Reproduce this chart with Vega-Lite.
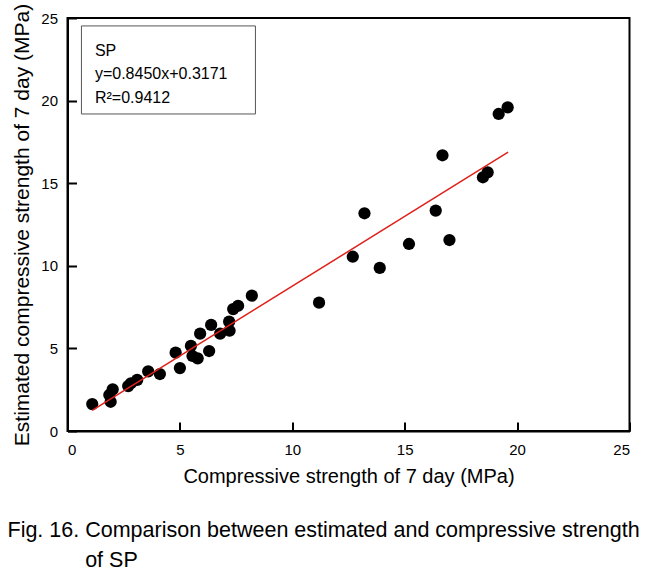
{
  "$schema": "https://vega.github.io/schema/vega-lite/v6.json",
  "width": 562,
  "height": 413,
  "autosize": {"type": "none"},
  "padding": {"left": 67.5, "top": 18, "right": 30, "bottom": 142},
  "background": "white",
  "config": {
    "view": {"stroke": "black", "strokeWidth": 2},
    "axis": {
      "grid": false,
      "domainColor": "black",
      "domainWidth": 2,
      "tickColor": "black",
      "tickWidth": 2,
      "tickSize": -9,
      "labelFont": "Liberation Sans",
      "labelFontSize": 15,
      "labelColor": "black",
      "titleFont": "Liberation Sans",
      "titleFontWeight": "normal",
      "titleColor": "black"
    }
  },
  "title": {
    "text": ["Fig. 16. Comparison between estimated and compressive strength", "\u200b\u00a0\u00a0\u00a0\u00a0\u00a0\u00a0\u00a0\u00a0\u00a0\u00a0\u00a0\u00a0\u00a0of SP"],
    "orient": "bottom",
    "anchor": "start",
    "frame": "group",
    "dx": -60,
    "offset": 34,
    "font": "Liberation Sans",
    "fontSize": 21.5,
    "fontWeight": "normal",
    "lineHeight": 30,
    "color": "black"
  },
  "datasets": {
    "points": [
      {"measured": 1.10, "estimated": 1.63},
      {"measured": 1.92, "estimated": 1.77},
      {"measured": 1.86, "estimated": 2.18},
      {"measured": 2.01, "estimated": 2.52},
      {"measured": 2.70, "estimated": 2.72},
      {"measured": 2.82, "estimated": 2.89},
      {"measured": 3.10, "estimated": 3.09},
      {"measured": 3.59, "estimated": 3.61},
      {"measured": 4.11, "estimated": 3.45},
      {"measured": 4.81, "estimated": 4.74},
      {"measured": 5.00, "estimated": 3.81},
      {"measured": 5.49, "estimated": 5.15},
      {"measured": 5.56, "estimated": 4.54},
      {"measured": 5.79, "estimated": 4.40},
      {"measured": 5.90, "estimated": 5.89},
      {"measured": 6.30, "estimated": 4.84},
      {"measured": 6.39, "estimated": 6.42},
      {"measured": 6.79, "estimated": 5.89},
      {"measured": 7.21, "estimated": 6.07},
      {"measured": 7.19, "estimated": 6.62},
      {"measured": 7.37, "estimated": 7.38},
      {"measured": 7.59, "estimated": 7.58},
      {"measured": 8.20, "estimated": 8.19},
      {"measured": 11.19, "estimated": 7.77},
      {"measured": 12.69, "estimated": 10.55},
      {"measured": 13.21, "estimated": 13.18},
      {"measured": 13.89, "estimated": 9.87},
      {"measured": 15.19, "estimated": 11.32},
      {"measured": 16.38, "estimated": 13.34},
      {"measured": 16.99, "estimated": 11.56},
      {"measured": 16.68, "estimated": 16.69},
      {"measured": 18.48, "estimated": 15.36},
      {"measured": 18.69, "estimated": 15.66},
      {"measured": 19.18, "estimated": 19.19},
      {"measured": 19.58, "estimated": 19.59}
    ],
    "fit": [
      {"measured": 1.1, "estimated": 1.2466},
      {"measured": 19.6, "estimated": 16.879}
    ],
    "box": [
      {"x1": 0.62, "x2": 8.36, "y1": 19.19, "y2": 24.52}
    ],
    "legendText": [
      {"x": 1.22, "y": 22.72, "label": "SP"},
      {"x": 1.22, "y": 21.28, "label": "y=0.8450x+0.3171"},
      {"x": 1.22, "y": 19.84, "label": "R\u00b2=0.9412"}
    ]
  },
  "layer": [
    {
      "data": {"name": "box"},
      "mark": {"type": "rect", "fill": "white", "stroke": "#555555", "strokeWidth": 1},
      "encoding": {
        "x": {"field": "x1", "type": "quantitative", "scale": {"domain": [0, 25]}},
        "x2": {"field": "x2"},
        "y": {"field": "y1", "type": "quantitative", "scale": {"domain": [0, 25]}},
        "y2": {"field": "y2"}
      }
    },
    {
      "data": {"name": "legendText"},
      "mark": {"type": "text", "align": "left", "baseline": "alphabetic", "font": "Liberation Sans", "fontSize": 16, "color": "black"},
      "encoding": {
        "x": {"field": "x", "type": "quantitative"},
        "y": {"field": "y", "type": "quantitative"},
        "text": {"field": "label"}
      }
    },
    {
      "data": {"name": "points"},
      "mark": {"type": "circle", "size": 150, "color": "black", "opacity": 1},
      "encoding": {
        "x": {
          "field": "measured", "type": "quantitative",
          "scale": {"domain": [0, 25], "nice": false},
          "axis": {"values": [0, 5, 10, 15, 20, 25], "title": "Compressive strength of 7 day (MPa)", "titleFontSize": 20, "titlePadding": 9, "labelPadding": 20}
        },
        "y": {
          "field": "estimated", "type": "quantitative",
          "scale": {"domain": [0, 25], "nice": false},
          "axis": {"values": [0, 5, 10, 15, 20, 25], "title": "Estimated compressive strength of 7 day (MPa)", "titleFontSize": 21, "titlePadding": 8, "labelPadding": 19}
        }
      }
    },
    {
      "data": {"name": "fit"},
      "mark": {"type": "line", "color": "#e0201a", "strokeWidth": 1.5},
      "encoding": {
        "x": {"field": "measured", "type": "quantitative"},
        "y": {"field": "estimated", "type": "quantitative"}
      }
    }
  ]
}
